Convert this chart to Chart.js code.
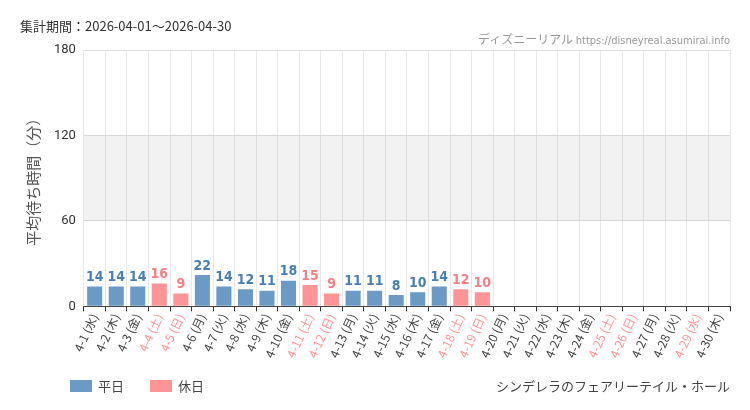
<!DOCTYPE html>
<html><head><meta charset="utf-8">
<script src="https://cdn.jsdelivr.net/npm/chart.js@4"></script>
<style>
body{margin:0;width:750px;height:410px;background:#fff;font-family:"Noto Sans CJK JP",sans-serif;position:relative}
#t{position:absolute;left:20px;top:16px;font-size:13px;color:#333}
#s{position:absolute;right:20px;top:30px;font-size:12px;color:#999}
#n{position:absolute;right:20px;top:376px;font-size:13px;color:#444}
#lg{position:absolute;left:70px;top:376px;font-size:13px;color:#444}
#lg i{display:inline-block;width:22px;height:12px;vertical-align:-1px;margin-right:6px}
#c{position:absolute;left:0;top:0}
</style></head><body>
<canvas id="c" width="750" height="410"></canvas>
<div id="t">集計期間：2026-04-01～2026-04-30</div>
<div id="s">ディズニーリアル <span style="font-family:'DejaVu Sans Condensed';font-size:11px">https://disneyreal.asumirai.info</span></div>
<div id="lg"><i style="background:#6b9ac4"></i>平日　　<i style="background:#ff9496"></i>休日</div>
<div id="n">シンデレラのフェアリーテイル・ホール</div>
<script>
const days = ['4-1 (水)','4-2 (木)','4-3 (金)','4-4 (土)','4-5 (日)','4-6 (月)','4-7 (火)','4-8 (水)','4-9 (木)','4-10 (金)',
  '4-11 (土)','4-12 (日)','4-13 (月)','4-14 (火)','4-15 (水)','4-16 (木)','4-17 (金)','4-18 (土)','4-19 (日)','4-20 (月)',
  '4-21 (火)','4-22 (水)','4-23 (木)','4-24 (金)','4-25 (土)','4-26 (日)','4-27 (月)','4-28 (火)','4-29 (水)','4-30 (木)'];
const waits = [14,14,14,16,9,22,14,12,11,18,15,9,11,11,8,10,14,12,10];
const holidays = ['4-4 (土)','4-5 (日)','4-11 (土)','4-12 (日)','4-18 (土)','4-19 (日)','4-25 (土)','4-26 (日)','4-29 (水)'];
const yTicks = [0,60,120,180];

const BLUE = '#6b9ac4', RED = '#ff9496', BLUE_T = '#4a7fb5', RED_T = '#f77f85';
const isHol = days.map(d => holidays.includes(d));
const weekday = days.map((d, i) => (i < waits.length && !isHol[i]) ? waits[i] : null);
const holiday = days.map((d, i) => (i < waits.length && isHol[i]) ? waits[i] : null);

const band = {
  id: 'band',
  beforeDatasetsDraw(ch) {
    const { ctx, chartArea: a, scales: { y } } = ch;
    ctx.save();
    ctx.fillStyle = 'rgba(0,0,0,0.05)';
    ctx.fillRect(a.left, y.getPixelForValue(120), a.right - a.left, y.getPixelForValue(60) - y.getPixelForValue(120));
    ctx.restore();
  }
};
const labels = {
  id: 'labels',
  afterDatasetsDraw(ch) {
    const { ctx } = ch;
    ctx.save();
    ctx.font = 'bold 14px "DejaVu Sans Condensed"';
    ctx.textAlign = 'center';
    ctx.textBaseline = 'bottom';
    ch.data.datasets.forEach((ds, di) => {
      ctx.fillStyle = di ? RED_T : BLUE_T;
      ch.getDatasetMeta(di).data.forEach((el, i) => {
        if (ds.data[i] == null) return;
        ctx.fillText(ds.data[i], el.x, el.y - 2);
      });
    });
    ctx.restore();
  }
};

new Chart(document.getElementById('c'), {
  type: 'bar',
  data: {
    labels: days,
    datasets: [
      { label: '平日', data: weekday, backgroundColor: BLUE },
      { label: '休日', data: holiday, backgroundColor: RED }
    ]
  },
  options: {
    responsive: false, animation: false,
    layout: { padding: { top: 50, right: 20, left: 20, bottom: 50 } },
    datasets: { bar: { barPercentage: 0.7, categoryPercentage: 1 } },
    plugins: { legend: { display: false }, tooltip: { enabled: false } },
    scales: {
      x: {
        stacked: true,
        grid: { color: '#e8e8e8', drawTicks: true, tickLength: 5, tickColor: '#333' },
        border: { color: '#444' },
        ticks: {
          maxRotation: 65, minRotation: 65, autoSkip: false, padding: 0,
          font: { size: 12, family: '"Noto Sans CJK JP"' },
          color: ctx => isHol[ctx.index] ? RED : '#444'
        }
      },
      y: {
        stacked: true,
        min: 0, max: 180,
        afterBuildTicks: ax => { ax.ticks = yTicks.map(v => ({ value: v })); },
        grid: { color: '#e0e0e0', drawTicks: false },
        border: { display: false },
        ticks: { padding: 8, color: '#333', font: { size: 13, family: 'Roboto' } },
        title: { display: true, text: '平均待ち時間（分）', color: '#555', font: { size: 15, family: '"Noto Sans CJK JP"' } }
      }
    }
  },
  plugins: [band, labels]
});
</script>
</body></html>
